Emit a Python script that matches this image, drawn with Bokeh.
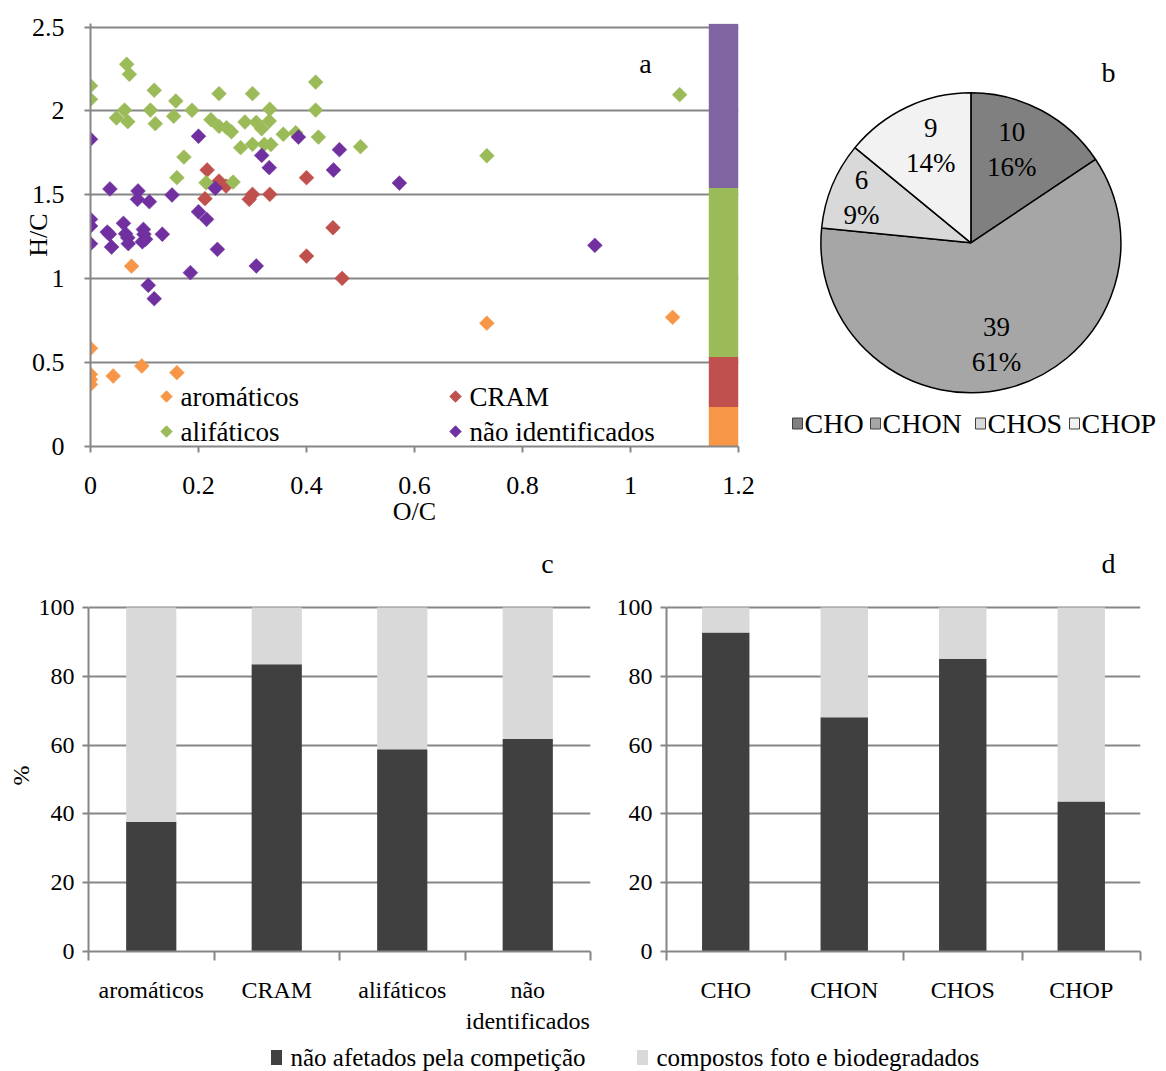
import numpy as np
from math import pi
from bokeh.plotting import figure
from bokeh.layouts import column, row
from bokeh.models import Range1d, FixedTicker
from bokeh.embed import file_html
from bokeh.resources import INLINE
from bokeh.core.properties import value

FONT = "Liberation Serif"
GRID = "#868686"

# ---------------- panel a: H/C vs O/C ----------------
series_names = ["aromáticos", "CRAM", "alifáticos", "não identificados"]
series_colors = ["#f79646", "#c0504d", "#9bbb59", "#7030a0"]

aro_oc = [0.0, 0.0, 0.0, 0.0, 0.042, 0.095, 0.160, 0.076, 0.734, 1.078]
aro_hc = [0.585, 0.43, 0.40, 0.37, 0.42, 0.48, 0.44, 1.075, 0.735, 0.77]

cram_oc = [0.216, 0.212, 0.238, 0.251, 0.300, 0.294, 0.332, 0.400, 0.449, 0.400, 0.466]
cram_hc = [1.648, 1.477, 1.582, 1.552, 1.503, 1.473, 1.503, 1.602, 1.304, 1.135, 1.002]

ali_oc = [0.0, 0.0, 0.067, 0.072, 0.048, 0.063, 0.069, 0.118, 0.111, 0.120,
          0.158, 0.154, 0.188, 0.173, 0.160, 0.238, 0.223, 0.238, 0.252, 0.261,
          0.278, 0.300, 0.286, 0.307, 0.317, 0.300, 0.322, 0.332, 0.331, 0.334,
          0.357, 0.380, 0.417, 0.417, 0.422, 0.500, 0.734, 1.091, 0.214, 0.264]
ali_hc = [2.150, 2.069, 2.278, 2.218, 1.958, 2.005, 1.936, 2.123, 2.005, 1.924,
          2.059, 1.968, 2.004, 1.725, 1.602, 2.103, 1.948, 1.908, 1.900, 1.876,
          1.781, 2.103, 1.934, 1.932, 1.894, 1.801, 1.801, 2.010, 1.940, 1.800,
          1.861, 1.870, 2.172, 2.005, 1.844, 1.787, 1.733, 2.097, 1.572, 1.576]

nid_oc = [0.0, 0.200, 0.036, 0.088, 0.087, 0.109, 0.151, 0.231, 0.317, 0.331,
          0.385, 0.461, 0.450, 0.572, 0.200, 0.215, 0.0, 0.0, 0.0, 0.031,
          0.035, 0.039, 0.061, 0.065, 0.069, 0.070, 0.098, 0.099, 0.096, 0.102,
          0.133, 0.235, 0.185, 0.307, 0.107, 0.118, 0.934]
nid_hc = [1.831, 1.849, 1.535, 1.523, 1.473, 1.459, 1.499, 1.539, 1.735, 1.662,
          1.844, 1.769, 1.648, 1.570, 1.399, 1.354, 1.354, 1.314, 1.209, 1.278,
          1.265, 1.189, 1.330, 1.268, 1.244, 1.209, 1.294, 1.265, 1.220, 1.235,
          1.265, 1.175, 1.036, 1.076, 0.961, 0.881, 1.199]

strip_bounds = [0.0, 0.235, 0.533, 1.54, 2.52]
strip_colors = ["#f79646", "#c0504d", "#9bbb59", "#8064a2"]

x_ticks_a = [0, 0.2, 0.4, 0.6, 0.8, 1.0, 1.2]
x_tick_labels_a = ["0", "0.2", "0.4", "0.6", "0.8", "1", "1.2"]
y_ticks_a = [0, 0.5, 1.0, 1.5, 2.0, 2.5]
y_tick_labels_a = ["0", "0.5", "1", "1.5", "2", "2.5"]

# ---------------- panel b: pie ----------------
pie_names = ["CHO", "CHON", "CHOS", "CHOP"]
pie_counts = [10, 39, 6, 9]
pie_pct = ["16%", "61%", "9%", "14%"]
pie_colors = ["#808080", "#a6a6a6", "#d9d9d9", "#f2f2f2"]

# ---------------- panels c and d: stacked bars ----------------
cls_labels = ["aromáticos", "CRAM", "alifáticos", "não\nidentificados"]
cls_unaffected = [37.7, 83.5, 58.8, 61.8]
cls_degraded = [62.3, 16.5, 41.2, 38.2]

grp_labels = ["CHO", "CHON", "CHOS", "CHOP"]
grp_unaffected = [92.7, 68.1, 85.1, 43.6]
grp_degraded = [7.3, 31.9, 14.9, 56.4]

bar_legend = ["não afetados pela competição", "compostos foto e biodegradados"]
bar_colors = ["#404040", "#d9d9d9"]
y_ticks_bar = [0, 20, 40, 60, 80, 100]


def style_axes(p, tick_size):
    for ax in p.axis:
        ax.axis_line_color = GRID
        ax.axis_line_width = 2
        ax.major_tick_line_color = GRID
        ax.major_tick_line_width = 2
        ax.major_tick_in = 0
        ax.major_tick_out = 6
        ax.minor_tick_line_color = None
        ax.major_label_text_font = FONT
        ax.major_label_text_font_size = tick_size
        ax.major_label_text_color = "black"
        ax.axis_label_text_font = FONT
        ax.axis_label_text_font_style = "normal"
        ax.axis_label_text_color = "black"
    p.xgrid.visible = False
    p.ygrid.grid_line_color = GRID
    p.ygrid.grid_line_width = 2
    p.outline_line_color = None


def txt(p, x, y, s, size, align="center", angle=0):
    p.text([x], [y], text=[s], text_font=value(FONT), text_font_size=size, angle=angle,
           text_align=align, text_baseline="middle", text_color="black")


# ---------------- figure a ----------------
A_TOP, A_FRAME, A_H = 23, 423, 540
p1 = figure(width=768, height=A_H, x_range=Range1d(0, 1.2), y_range=Range1d(0, 2.521),
            output_backend="svg", toolbar_location=None,
            min_border_left=90, min_border_right=30, min_border_top=A_TOP,
            min_border_bottom=A_H - A_TOP - A_FRAME)
style_axes(p1, "26px")
p1.xaxis.ticker = FixedTicker(ticks=x_ticks_a)
p1.xaxis.major_label_overrides = {t: l for t, l in zip(x_ticks_a, x_tick_labels_a)}
p1.xaxis.major_label_standoff = 24
p1.xaxis.axis_label = "O/C"
p1.xaxis.axis_label_text_font_size = "26px"
p1.xaxis.axis_label_standoff = 0
p1.yaxis.ticker = FixedTicker(ticks=y_ticks_a)
p1.yaxis.major_label_overrides = {t: l for t, l in zip(y_ticks_a, y_tick_labels_a)}
p1.yaxis.major_label_standoff = 20
p1.yaxis.axis_label = "H/C"
p1.yaxis.axis_label_text_font_size = "26px"
p1.yaxis.axis_label_standoff = -24
p1.ygrid.ticker = FixedTicker(ticks=y_ticks_a)

p1.quad(left=1.145, right=1.2, bottom=strip_bounds[:-1], top=strip_bounds[1:],
        fill_color=strip_colors, line_color=None)

all_x = [aro_oc, cram_oc, ali_oc, nid_oc]
all_y = [aro_hc, cram_hc, ali_hc, nid_hc]
for xs, ys, col in zip(all_x, all_y, series_colors):
    p1.scatter(xs, ys, marker="square", angle=pi / 4, size=10.5,
               fill_color=col, line_color=col, line_width=0.5)

# legend (manual, two columns)
px_per_x = 648 / 1.2
px_per_y = 423 / 2.521
leg_col_px = [76, 365]
leg_row_px = [50, 15]
for i, (name, col) in enumerate(zip(series_names, series_colors)):
    cx = leg_col_px[i % 2] / px_per_x
    cy = leg_row_px[i // 2] / px_per_y
    p1.scatter([cx], [cy], marker="square", angle=pi / 4, size=8, fill_color=col, line_color=col)
    txt(p1, cx + 14 / px_per_x, cy, name, "27px", "left")
txt(p1, 555 / px_per_x, 383 / px_per_y, "a", "28px")

# ---------------- figure b (pie) ----------------
p2 = figure(width=398, height=A_H, x_range=Range1d(0, 398), y_range=Range1d(0, A_FRAME),
            output_backend="svg", toolbar_location=None, x_axis_type=None, y_axis_type=None,
            min_border_left=0, min_border_right=0, min_border_top=A_TOP,
            min_border_bottom=A_H - A_TOP - A_FRAME)
p2.outline_line_color = None
cx0, cy0, R = 202.4, 203.7, 150
total = sum(pie_counts)
frac = np.cumsum([0] + pie_counts) / total
starts = pi / 2 - 2 * pi * frac[:-1]
ends = pi / 2 - 2 * pi * frac[1:]
p2.wedge(x=cx0, y=cy0, radius=R, start_angle=starts, end_angle=ends, direction="clock",
         fill_color=pie_colors, line_color="black", line_width=1.5)
label_r = [0.68, 0.70, 0.79, 0.70]
label_da = [0.08, 0.0, 0.0, -0.05]
mids = (starts + ends) / 2 + np.array(label_da)
lx = [cx0 + R * f * np.cos(a) for f, a in zip(label_r, mids)]
ly = [cy0 + R * f * np.sin(a) for f, a in zip(label_r, mids)]
p2.text(lx, ly, text=[f"{c}\n{p}" for c, p in zip(pie_counts, pie_pct)],
        text_font=value(FONT), text_font_size="27px", text_align="center",
        text_baseline="middle", text_line_height=1.17, text_color="black")
sw_x = [29, 107, 212, 306]
p2.rect(x=sw_x, y=23, width=10, height=11, fill_color=pie_colors, line_color="#404040",
        line_width=1)
p2.text([x + 7 for x in sw_x], [23] * 4, text=pie_names, text_font=value(FONT),
        text_font_size="28px", text_align="left", text_baseline="middle", text_color="black")
txt(p2, 340, 374, "b", "28px")

# ---------------- figures c and d ----------------
B_H, B_FRAME = 500, 411
B_YMAX = 100 * B_FRAME / 344
PCT_W = 32

p_pct = figure(width=PCT_W, height=B_H, x_range=Range1d(0, PCT_W), y_range=Range1d(0, B_FRAME),
               output_backend="svg", toolbar_location=None, x_axis_type=None, y_axis_type=None,
               min_border_left=0, min_border_right=0, min_border_top=0,
               min_border_bottom=B_H - B_FRAME)
p_pct.outline_line_color = None
txt(p_pct, 20, 176, "%", "24px", angle=pi / 2)


def bar_panel(width, border_l, border_r, labels, unaff, degr, letter, letter_px):
    cat_px = (width - border_l - border_r) / 4
    p = figure(width=width, height=B_H, x_range=Range1d(0, 4), y_range=Range1d(0, B_YMAX),
               output_backend="svg", toolbar_location=None,
               min_border_left=border_l, min_border_right=border_r, min_border_top=0,
               min_border_bottom=B_H - B_FRAME)
    style_axes(p, "24px")
    xs = [i + 0.5 for i in range(len(labels))]
    p.vbar(x=xs, width=0.4, bottom=0, top=unaff, fill_color=bar_colors[0], line_color=None)
    p.vbar(x=xs, width=0.4, bottom=unaff, top=[u + d for u, d in zip(unaff, degr)],
           fill_color=bar_colors[1], line_color=None)
    p.xaxis.ticker = FixedTicker(ticks=xs, minor_ticks=list(range(len(labels) + 1)))
    p.xaxis.major_label_overrides = {x: l for x, l in zip(xs, labels)}
    p.xaxis.major_tick_out = 0
    p.xaxis.major_tick_line_color = None
    p.xaxis.minor_tick_line_color = GRID
    p.xaxis.minor_tick_line_width = 2
    p.xaxis.minor_tick_in = 0
    p.xaxis.minor_tick_out = 9
    p.xaxis.major_label_standoff = 16
    p.yaxis.ticker = FixedTicker(ticks=y_ticks_bar)
    p.yaxis.bounds = (0, 100)
    p.yaxis.major_label_standoff = 8
    p.ygrid.ticker = FixedTicker(ticks=y_ticks_bar)
    ppy = B_FRAME / B_YMAX
    txt(p, letter_px[0] / cat_px, letter_px[1] / ppy, letter, "28px")
    return p


p3 = bar_panel(600 - PCT_W, 88 - PCT_W, 10, cls_labels, cls_unaffected, cls_degraded, "c",
               (459, 388))
p4 = bar_panel(566, 66, 26, grp_labels, grp_unaffected, grp_degraded, "d", (442, 388))

# ---------------- shared legend ----------------
p5 = figure(width=1166, height=31, x_range=Range1d(0, 1166), y_range=Range1d(0, 31),
            output_backend="svg", toolbar_location=None, x_axis_type=None, y_axis_type=None,
            min_border=0)
p5.outline_line_color = None
leg_sw = [276, 642]
p5.rect(x=leg_sw, y=14, width=11, height=15, fill_color=bar_colors, line_color=None)
p5.text([x + 14 for x in leg_sw], [14, 14], text=bar_legend, text_font=value(FONT),
        text_font_size="25px", text_align="left", text_baseline="middle", text_color="black")

layout = column(row(p1, p2), row(p_pct, p3, p4), p5)
open("out.html", "w").write(file_html(layout, INLINE))
